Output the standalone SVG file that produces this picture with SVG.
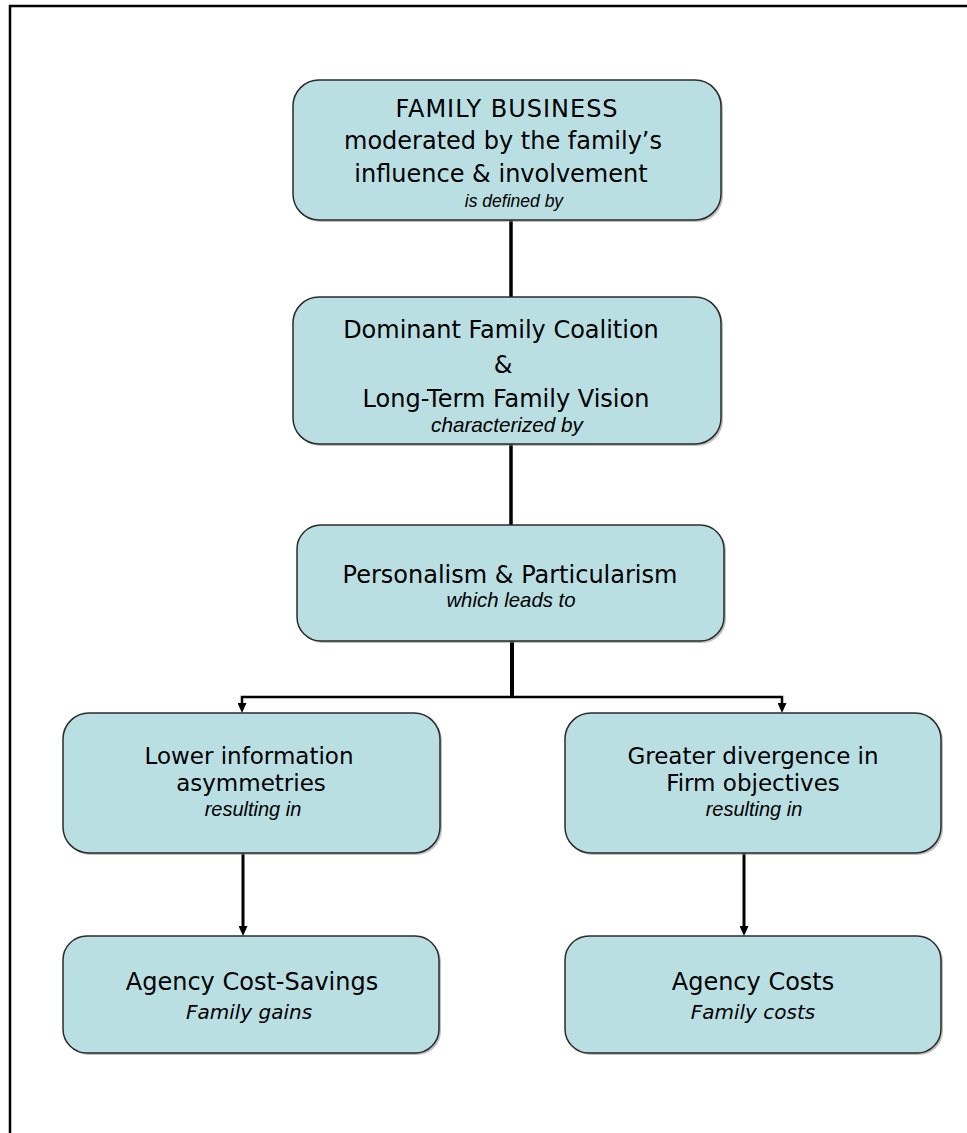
<svg xmlns="http://www.w3.org/2000/svg" width="967" height="1133" viewBox="0 0 967 1133">
<style>
.box{fill:#badfe3;stroke:#2b2b2b;stroke-width:1.5}
.sh{fill:#8a8a8a;opacity:.55}
.m{font-family:"DejaVu Sans",Verdana,sans-serif;font-size:24px;fill:#000;text-anchor:middle}
.s{font-size:23px}
.i{font-family:"Liberation Sans",Arial,sans-serif;font-style:italic;fill:#000;text-anchor:middle}
.o{font-family:"DejaVu Sans",Verdana,sans-serif;font-style:italic;font-size:20px;fill:#000;text-anchor:middle}
.c{fill:none;stroke:#000}
</style>
<defs>
<marker id="ah" markerUnits="userSpaceOnUse" markerWidth="10" markerHeight="9" viewBox="0 0 10 9" refX="1" refY="4.5" orient="auto">
<path d="M0,0 L10,4.5 L0,9 z" fill="#000"/>
</marker>
</defs>
<path d="M10,1133 V6 H967" fill="none" stroke="#000" stroke-width="2.5"/>
<g id="connectors">
<path class="c" d="M511,220 V297" stroke-width="3.5"/>
<path class="c" d="M511,444 V525" stroke-width="3.5"/>
<path class="c" d="M512,641 V698" stroke-width="4"/>
<path class="c" d="M512,697 H242 V704" stroke-width="2.5" marker-end="url(#ah)"/>
<path class="c" d="M512,697 H782 V704" stroke-width="2.5" marker-end="url(#ah)"/>
<path class="c" d="M243,853 V927" stroke-width="3" marker-end="url(#ah)"/>
<path class="c" d="M744,853 V927" stroke-width="3" marker-end="url(#ah)"/>
</g>
<g id="family-business">
<rect class="sh" x="295" y="82" width="428" height="140" rx="26"/>
<rect class="box" x="293" y="80" width="428" height="140" rx="26"/>
<text class="m" x="507" y="117" letter-spacing="1">FAMILY BUSINESS</text>
<text class="m" x="503" y="149">moderated by the family’s</text>
<text class="m" x="501" y="182">influence &amp; involvement</text>
<text class="i" x="514" y="207" font-size="17.5">is defined by</text>
</g>
<g id="dominant-coalition">
<rect class="sh" x="295" y="299" width="428" height="147" rx="26"/>
<rect class="box" x="293" y="297" width="428" height="147" rx="26"/>
<text class="m" x="501" y="338">Dominant Family Coalition</text>
<text class="m" x="503" y="373">&amp;</text>
<text class="m" x="506" y="407">Long-Term Family Vision</text>
<text class="i" x="507" y="432" font-size="20.7">characterized by</text>
</g>
<g id="personalism">
<rect class="sh" x="299" y="527" width="427" height="116" rx="24"/>
<rect class="box" x="297" y="525" width="427" height="116" rx="24"/>
<text class="m" x="510" y="583">Personalism &amp; Particularism</text>
<text class="i" x="511" y="607" font-size="20.4">which leads to</text>
</g>
<g id="lower-info">
<rect class="sh" x="65" y="715" width="377" height="140" rx="26"/>
<rect class="box" x="63" y="713" width="377" height="140" rx="26"/>
<text class="m s" x="249" y="764">Lower information</text>
<text class="m s" x="251" y="791">asymmetries</text>
<text class="i" x="253" y="816" font-size="20">resulting in</text>
</g>
<g id="greater-divergence">
<rect class="sh" x="567" y="715" width="376" height="140" rx="26"/>
<rect class="box" x="565" y="713" width="376" height="140" rx="26"/>
<text class="m s" x="753" y="764">Greater divergence in</text>
<text class="m s" x="753" y="791">Firm objectives</text>
<text class="i" x="754" y="816" font-size="20">resulting in</text>
</g>
<g id="cost-savings">
<rect class="sh" x="65" y="938" width="376" height="117" rx="24"/>
<rect class="box" x="63" y="936" width="376" height="117" rx="24"/>
<text class="m" x="252" y="990">Agency Cost-Savings</text>
<text class="o" x="249" y="1019">Family gains</text>
</g>
<g id="agency-costs">
<rect class="sh" x="567" y="938" width="376" height="117" rx="24"/>
<rect class="box" x="565" y="936" width="376" height="117" rx="24"/>
<text class="m" x="753" y="990">Agency Costs</text>
<text class="o" x="753" y="1019">Family costs</text>
</g>
</svg>
